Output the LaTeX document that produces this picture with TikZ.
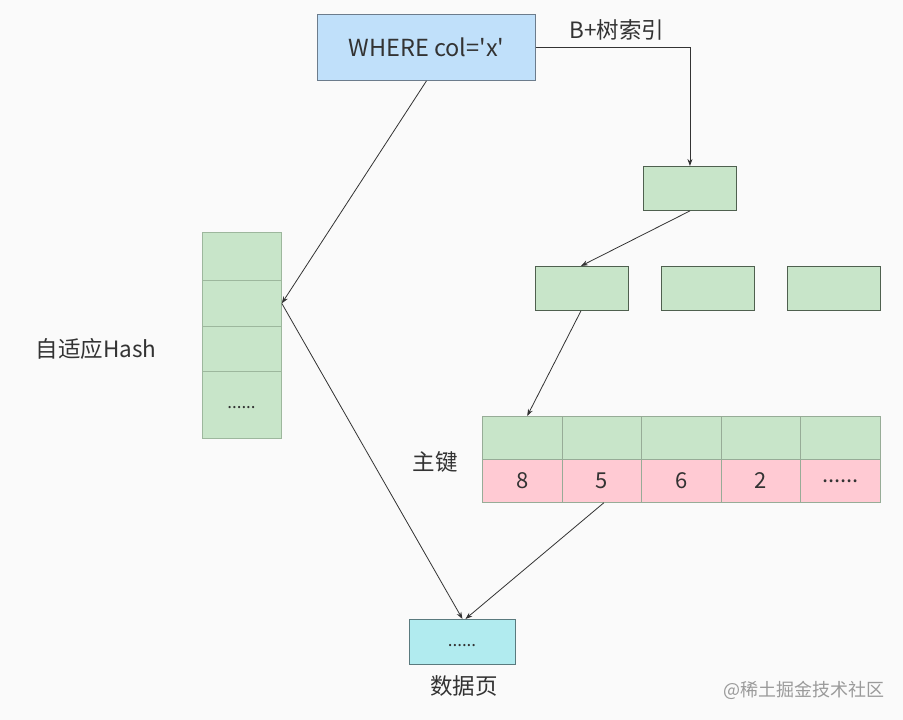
\documentclass[tikz,border=0pt]{standalone}
\usepackage{fontspec}
\setmainfont{Noto Sans CJK SC}
\usetikzlibrary{arrows.meta}
\definecolor{bgc}{HTML}{FAFAFA}
\definecolor{bluef}{HTML}{C0E0FA}
\definecolor{blued}{HTML}{6C7C8C}
\definecolor{greenf}{HTML}{C8E5C9}
\definecolor{greend}{HTML}{4F604F}
\definecolor{greenl}{HTML}{9DB79D}
\definecolor{pinkf}{HTML}{FFCAD3}
\definecolor{cyanf}{HTML}{B1EBEF}
\definecolor{cyand}{HTML}{5A7A7E}
\definecolor{txt}{HTML}{333333}
\definecolor{wm}{HTML}{9A9A9A}
\newcommand{\mydots}{......}
\tikzset{
  box/.style={draw, line width=0.9pt, minimum width=#1, inner sep=0pt, anchor=north west},
  bnode/.style={box=93pt, minimum height=44pt, fill=greenf, draw=greend},
  hcell/.style={anchor=north west, minimum width=79pt, inner sep=0pt, fill=greenf, draw=greenl, line width=0.8pt},
  kcell/.style={anchor=north west, minimum width=79.6pt, minimum height=43pt, inner sep=0pt, draw=greenl!80!gray, line width=0.8pt, font=\fontsize{22}{24}\selectfont, text=txt},
  lbl/.style={font=\fontsize{22.5}{26}\selectfont, text=txt, inner sep=0pt},
  conn/.style={draw=txt, line width=0.8pt, -{Stealth[length=7pt,width=5pt]}}
}
\begin{document}
\begin{tikzpicture}[x=1pt,y=-1pt]
\fill[bgc] (0,0) rectangle (903,720);
\useasboundingbox (0,0) rectangle (903,720);
% query box
\node[box=218pt, minimum height=66pt, fill=bluef, draw=blued, font=\fontsize{23.5}{26}\selectfont, text=txt] (q) at (317,14) {WHERE col=\textquotesingle x\textquotesingle};
\node[lbl] (bl) at (617,30) {B+树索引};
% B+ tree
\node[bnode] (root) at (643,166) {};
\node[bnode] (l1) at (535,266) {};
\node[bnode] (l2) at (661,266) {};
\node[bnode] (l3) at (787,266) {};
% hash
\node[hcell, minimum height=48pt] (h1) at (202,232) {};
\node[hcell, minimum height=46pt] (h2) at (202,280) {};
\node[hcell, minimum height=45pt] (h3) at (202,326) {};
\node[hcell, minimum height=67pt] (h4) at (202,371) {};
\node[lbl, font=\fontsize{17}{18}\selectfont] (hd) at (241.5,408) {\mydots};
\node[lbl] (hl) at (96,349) {自适应Hash};
% primary key table
\foreach \i/\x/\v in {1/482/8,2/561.6/5,3/641.2/6,4/720.8/2,5/800.4/\mydots}{
  \node[kcell, fill=greenf] (g\i) at (\x,416) {};
  \node[kcell, fill=pinkf] (p\i) at (\x,459) {\v};
}
\node[lbl] (kl) at (435,462) {主键};
% data page
\node[box=106pt, minimum height=45pt, fill=cyanf, draw=cyand] (d) at (409,619) {};
\node[lbl, font=\fontsize{17}{18}\selectfont] (dd) at (462,646) {\mydots};
\node[lbl] (dl) at (464,686) {数据页};
\node[lbl, font=\fontsize{18}{20}\selectfont, text=wm] (w) at (804,690) {@稀土掘金技术社区};
% connectors
\draw[conn] (q.east) -| (root.north);
\draw[conn] (root.south) -- ([xshift=-1pt]l1.north);
\draw[conn] ([xshift=-1pt]l1.south) -- ([xshift=5pt]g1.north);
\draw[conn] (q.south) -- (h2.east);
\draw[conn] (h2.east) -- (d.north);
\draw[conn] ([xshift=2pt]p2.south) -- ([xshift=3pt]d.north);
\end{tikzpicture}
\end{document}
